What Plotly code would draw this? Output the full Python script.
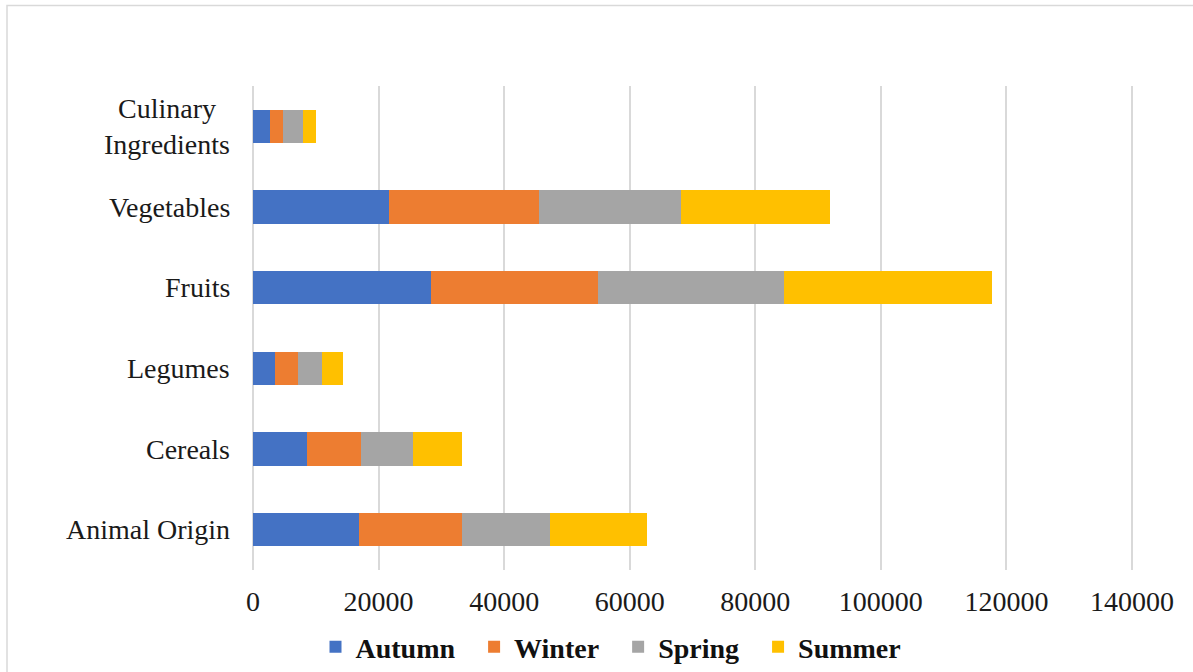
import plotly.graph_objects as go

# Food groups, listed bottom to top as they appear on the axis
categories = ["Animal Origin", "Cereals", "Legumes", "Fruits", "Vegetables", "Culinary Ingredients"]
category_labels = ["Animal Origin", "Cereals", "Legumes", "Fruits", "Vegetables", "Culinary<br>Ingredients"]

# Seasonal totals per food group
autumn = [16830, 8600, 3560, 28400, 21650, 2700]
winter = [16400, 8660, 3560, 26530, 23830, 2140]
spring = [14120, 8170, 3820, 29670, 22720, 3120]
summer = [15330, 7800, 3340, 33050, 23770, 2130]

x_ticks = [0, 20000, 40000, 60000, 80000, 100000, 120000, 140000]

series = [
    ("Autumn", autumn, "#4472C4"),
    ("Winter", winter, "#ED7D31"),
    ("Spring", spring, "#A5A5A5"),
    ("Summer", summer, "#FFC000"),
]

FONT = "Liberation Serif, Times New Roman, serif"
W, H = 1193, 672
# plot spans 0..140000 over 879 px; a few extra px on the right keep the
# last grid line inside the plotting area
X0_PX, X140_PX = 253, 1132
EXTRA = 4
L, R, T, B = X0_PX, W - X140_PX - EXTRA, 86, 102
X_MAX = 140000 * (X140_PX - X0_PX + EXTRA) / (X140_PX - X0_PX)
NB = "\u00a0"

fig = go.Figure()
for i, (name, vals, color) in enumerate(series):
    # trailing non-breaking spaces widen the gap between legend entries
    label = name + (NB * 2 if i < len(series) - 1 else "")
    fig.add_trace(go.Bar(
        y=categories, x=vals, name=label, orientation="h",
        marker=dict(color=color, line=dict(width=0)),
    ))

# Category labels drawn as centred multi-line text to the left of the plot
for cat, lab in zip(categories, category_labels):
    fig.add_annotation(
        x=0, xref="paper", y=cat, yref="y", text=lab, showarrow=False,
        xanchor="right", yanchor="middle", align="center", xshift=-21,
        font=dict(family=FONT, size=28, color="#1a1a1a"),
    )

pw = W - L - R
ph = H - T - B
# Light chart-area frame
fig.add_shape(
    type="rect", xref="paper", yref="paper",
    x0=(7 - L) / pw, x1=(W + 4 - L) / pw,
    y0=(H - B - (H + 4)) / ph, y1=(H - B - 5.5) / ph,
    line=dict(color="#d9d9d9", width=1.5), fillcolor="rgba(0,0,0,0)", layer="below",
)

fig.update_layout(
    width=W, height=H,
    margin=dict(l=L, r=R, t=T, b=B, autoexpand=False),
    barmode="stack", bargap=0.59,
    plot_bgcolor="white", paper_bgcolor="white",
    font=dict(family=FONT, size=28, color="#1a1a1a"),
    xaxis=dict(
        range=[0, X_MAX], tickvals=x_ticks, ticktext=[str(v) for v in x_ticks],
        showgrid=True, gridcolor="#d9d9d9", gridwidth=2,
        zeroline=True, zerolinecolor="#d9d9d9", zerolinewidth=2,
        showline=False, ticks="", ticklabelstandoff=12,
        tickfont=dict(family=FONT, size=28, color="#1a1a1a"),
    ),
    yaxis=dict(
        categoryorder="array", categoryarray=categories,
        showticklabels=False, showgrid=False, zeroline=False, ticks="",
    ),
    legend=dict(
        orientation="h", x=(611 - L) / pw, xanchor="center",
        y=(H - B - 647) / ph, yanchor="middle",
        font=dict(family=FONT, size=28, color="#111111", weight="bold"),
        traceorder="normal", itemclick=False,
    ),
    showlegend=True,
)

fig.write_html("out.html")
